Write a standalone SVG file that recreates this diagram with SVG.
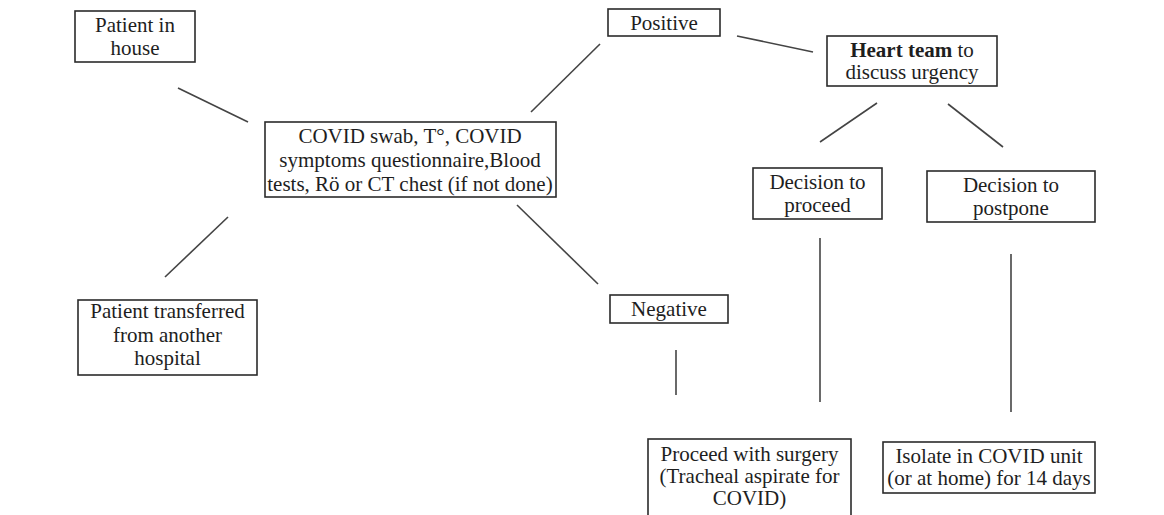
<svg xmlns="http://www.w3.org/2000/svg" width="1164" height="515" viewBox="0 0 1164 515">
<style>
.box{fill:#fff;stroke:#2b2b2b;stroke-width:1.6}
.t{font-family:"Liberation Serif","Times New Roman",serif;font-size:21px;fill:#1e1e1e;text-anchor:middle}
.c line{stroke:#444;stroke-width:1.6}
</style>
<rect width="1164" height="515" fill="#fff"/>
<g class="c" id="connectors">
<line x1="178" y1="88" x2="248" y2="122"/>
<line x1="228" y1="217" x2="165" y2="277"/>
<line x1="531" y1="112" x2="600" y2="44"/>
<line x1="517" y1="205" x2="598" y2="284"/>
<line x1="737" y1="36" x2="813" y2="52"/>
<line x1="877" y1="103" x2="820" y2="142"/>
<line x1="948" y1="104" x2="1003" y2="147"/>
<line x1="676" y1="350" x2="676" y2="395"/>
<line x1="820" y1="238" x2="820" y2="402"/>
<line x1="1011" y1="254" x2="1011" y2="412"/>
</g>
<g id="house"><rect class="box" x="75" y="11" width="120" height="51"/>
<text class="t" x="135" y="32">Patient in</text><text class="t" x="135" y="55">house</text></g>
<g id="covid"><rect class="box" x="265" y="122" width="291" height="75"/>
<text class="t" x="410" y="143">COVID swab, T°, COVID</text>
<text class="t" x="410" y="167">symptoms questionnaire,Blood</text>
<text class="t" x="410" y="191">tests, Rö or CT chest (if not done)</text></g>
<g id="transferred"><rect class="box" x="78" y="300" width="179" height="75"/>
<text class="t" x="167.5" y="318">Patient transferred</text>
<text class="t" x="167.5" y="342">from another</text>
<text class="t" x="167.5" y="365">hospital</text></g>
<g id="positive"><rect class="box" x="608" y="9" width="112" height="27"/>
<text class="t" x="664" y="30">Positive</text></g>
<g id="negative"><rect class="box" x="610" y="295" width="118" height="28"/>
<text class="t" x="669" y="316">Negative</text></g>
<g id="heart"><rect class="box" x="827" y="36" width="170" height="50"/>
<text class="t" x="912" y="57"><tspan font-weight="bold">Heart team</tspan> to</text>
<text class="t" x="912" y="79">discuss urgency</text></g>
<g id="proceed"><rect class="box" x="753" y="168" width="129" height="51"/>
<text class="t" x="817.5" y="189">Decision to</text>
<text class="t" x="817.5" y="212">proceed</text></g>
<g id="postpone"><rect class="box" x="927" y="171" width="168" height="51"/>
<text class="t" x="1011" y="192">Decision to</text>
<text class="t" x="1011" y="215">postpone</text></g>
<g id="surgery"><rect class="box" x="648" y="439" width="203" height="80"/>
<text class="t" x="749.5" y="461">Proceed with surgery</text>
<text class="t" x="749.5" y="483">(Tracheal aspirate for</text>
<text class="t" x="749.5" y="505">COVID)</text></g>
<g id="isolate"><rect class="box" x="883" y="442" width="212" height="51"/>
<text class="t" x="989" y="463">Isolate in COVID unit</text>
<text class="t" x="989" y="485">(or at home) for 14 days</text></g>
</svg>
